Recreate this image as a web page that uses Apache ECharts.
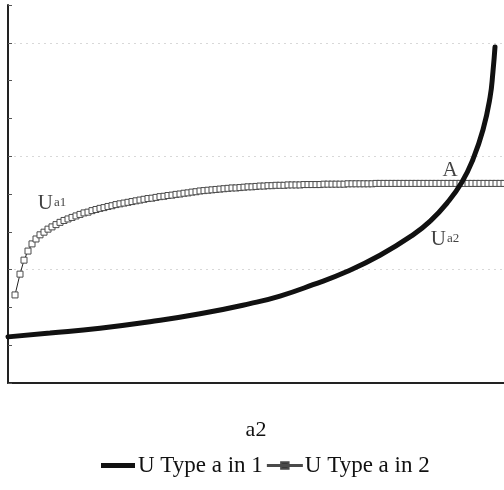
<!DOCTYPE html>
<html>
<head>
<meta charset="utf-8">
<script src="https://cdn.jsdelivr.net/npm/echarts@6/dist/echarts.min.js"></script>
<style>html,body{margin:0;padding:0;background:#fff}#c{width:504px;height:490px}</style>
</head>
<body>
<div id="c"></div>
<script>
// U of type a in sector 1 (thick curve)
const ua2X = [0, 10.5, 23, 35.5, 48, 60.5, 68, 76.25, 84.75, 93, 101.25, 105.5, 109.75, 113.5, 116.25, 118.75, 120.5, 121.25, 121.75];
const ua2Y = [1.22, 1.32, 1.45, 1.62, 1.83, 2.10, 2.30, 2.60, 2.95, 3.38, 3.92, 4.28, 4.76, 5.32, 5.92, 6.70, 7.55, 8.25, 8.89];

// U of type a in sector 2 (square markers)
const ua1X = [1.75, 3, 4, 5, 6, 7, 8, 9, 10, 11, 12, 13, 14, 15, 16, 17, 18, 19, 20,
  21, 22, 23, 24, 25, 26, 27, 28, 29, 30, 31, 32, 33, 34, 35, 36, 37, 38, 39, 40,
  41, 42, 43, 44, 45, 46, 47, 48, 49, 50, 51, 52, 53, 54, 55, 56, 57, 58, 59, 60,
  61, 62, 63, 64, 65, 66, 67, 68, 69, 70, 71, 72, 73, 74, 75, 76, 77, 78, 79, 80,
  81, 82, 83, 84, 85, 86, 87, 88, 89, 90, 91, 92, 93, 94, 95, 96, 97, 98, 99, 100,
  101, 102, 103, 104, 105, 106, 107, 108, 109, 110, 111, 112, 113, 114, 115, 116, 117, 118, 119, 120,
  121, 122, 123, 124];
const ua1Y = [2.33, 2.88, 3.25, 3.49, 3.68, 3.81, 3.92, 3.99, 4.07, 4.13, 4.19, 4.25, 4.30, 4.34, 4.38, 4.42, 4.46, 4.50, 4.52,
  4.56, 4.59, 4.62, 4.64, 4.67, 4.69, 4.72, 4.74, 4.76, 4.78, 4.80, 4.82, 4.84, 4.86, 4.88, 4.89, 4.91, 4.93, 4.94, 4.96,
  4.97, 4.99, 5.00, 5.02, 5.03, 5.05, 5.06, 5.08, 5.09, 5.10, 5.11, 5.12, 5.13, 5.14, 5.15, 5.16, 5.16, 5.17, 5.18, 5.19,
  5.19, 5.20, 5.21, 5.21, 5.22, 5.22, 5.23, 5.23, 5.23, 5.24, 5.24, 5.24, 5.24, 5.25, 5.25, 5.25, 5.25, 5.25, 5.26, 5.26,
  5.26, 5.26, 5.26, 5.26, 5.27, 5.27, 5.27, 5.27, 5.27, 5.27, 5.27, 5.28, 5.28, 5.28, 5.28, 5.28, 5.28, 5.28, 5.28, 5.28,
  5.28, 5.28, 5.28, 5.28, 5.28, 5.28, 5.28, 5.28, 5.28, 5.28, 5.28, 5.28, 5.28, 5.28, 5.28, 5.28, 5.28, 5.28, 5.28, 5.28,
  5.28, 5.28, 5.28, 5.28];

const seriesNames = ['U Type a in 1', 'U Type a in 2'];
const xAxisName = 'a2';

// annotation anchors
const notes = [
  { x: 113.5, y: 5.32, text: '{b|A}' },
  { x: 13, y: 4.25, text: '{u|U}{s|a1}' },
  { x: 101.25, y: 3.92, text: '{u|U}{s|a2}' }
];
const noteOffsets = [[-12, -11], [-8, -19], [32, 5]];

const FONT = '"Liberation Serif", "DejaVu Serif", serif';
const chart = echarts.init(document.getElementById('c'), null, { renderer: 'canvas' });

chart.setOption({
  animation: false,
  backgroundColor: '#fff',
  textStyle: { fontFamily: FONT, color: '#111' },
  grid: { left: 8, right: 0, top: 5, bottom: 107, outerBoundsMode: 'none' },
  legend: {
    data: [
      { name: seriesNames[0], icon: 'path://M0,0 L34,0 L34,5 L0,5 Z', itemStyle: { color: '#111' } },
      { name: seriesNames[1], icon: 'path://M0,3.5 L32,3.5 L32,4.5 L0,4.5 Z M12.5,1 L19.5,1 L19.5,7 L12.5,7 Z', itemStyle: { color: '#333' } }
    ],
    bottom: 8,
    left: 96,
    itemWidth: 34,
    itemHeight: 14,
    itemGap: 4,
    textStyle: { fontFamily: FONT, fontSize: 23, color: '#111', padding: [0, 0, 0, -2] }
  },
  xAxis: {
    type: 'value',
    min: 0,
    max: 124,
    name: xAxisName,
    nameLocation: 'middle',
    nameGap: 36,
    nameTextStyle: { fontFamily: FONT, fontSize: 22, color: '#111' },
    axisLine: { show: true, onZero: false, lineStyle: { color: '#222', width: 2 } },
    axisTick: { show: false },
    axisLabel: { show: false },
    splitLine: { show: false }
  },
  yAxis: [
    {
      type: 'value',
      min: 0,
      max: 10,
      interval: 1,
      axisLine: { show: true, lineStyle: { color: '#222', width: 2 } },
      axisTick: { show: true, inside: true, length: 4, lineStyle: { color: '#555' } },
      axisLabel: { show: false },
      splitLine: { show: false }
    },
    {
      type: 'value',
      min: 0,
      max: 10,
      interval: 3,
      position: 'left',
      axisLine: { show: false },
      axisTick: { show: false },
      axisLabel: { show: false },
      splitLine: { show: true, showMaxLine: false, showMinLine: false, lineStyle: { color: '#d8d8d8', type: [2, 4], width: 1 } }
    }
  ],
  series: [
    {
      name: seriesNames[0],
      type: 'line',
      data: ua2X.map((x, i) => [x, ua2Y[i]]),
      smooth: true,
      showSymbol: false,
      symbol: 'none',
      lineStyle: { color: '#111', width: 5, cap: 'round' },
      itemStyle: { color: '#111' },
      z: 3
    },
    {
      name: seriesNames[1],
      type: 'line',
      data: ua1X.map((x, i) => [x, ua1Y[i]]),
      symbol: 'rect',
      symbolSize: 6,
      showAllSymbol: true,
      lineStyle: { color: '#222', width: 1 },
      itemStyle: { color: '#fff', borderColor: '#4a4a4a', borderWidth: 1 },
      z: 2
    },
    {
      name: 'notes',
      type: 'scatter',
      symbolSize: 1,
      itemStyle: { color: 'rgba(0,0,0,0)' },
      silent: true,
      z: 5,
      data: notes.map((n, i) => ({
        value: [n.x, n.y],
        label: {
          show: true,
          position: 'inside',
          offset: noteOffsets[i],
          formatter: n.text,
          rich: {
            b: { fontFamily: FONT, fontSize: 21, color: '#111' },
            u: { fontFamily: FONT, fontSize: 21, color: '#111' },
            s: { fontFamily: FONT, fontSize: 13, color: '#111', padding: [0, 0, 2, 1] }
          }
        }
      }))
    }
  ]
});
</script>
</body>
</html>
